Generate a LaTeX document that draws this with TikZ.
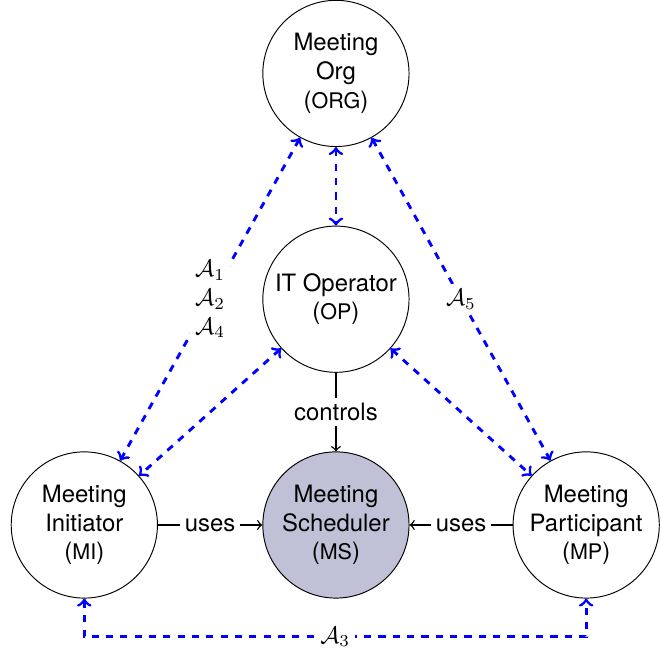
\documentclass[tikz,border=0pt]{standalone}
\usepackage{fontspec}
\setmainfont{TeX Gyre Heros}
\definecolor{schedfill}{RGB}{192,193,214}
\newcommand{\abbr}[1]{({\small #1})}

\begin{document}
\begin{tikzpicture}[>=to]
	\tikzset{
		agent/.style={circle, draw, inner sep=0, minimum size=2.15cm, align=center},
		link/.style={->, semithick},
		assoc/.style={<->, blue, very thick, dashed},
		tag/.style={fill=white, text=black, inner sep=2pt, align=center},
	}
	\useasboundingbox (-4.94,-1.84) rectangle (4.78,7.72);
	% agents
	\node[agent, fill=schedfill] (MS) at (0,0) {Meeting\\Scheduler\\\abbr{MS}};
	\node[agent] (MI) at (-3.7,0) {Meeting\\Initiator\\\abbr{MI}};
	\node[agent] (MP) at (3.68,0) {Meeting\\Participant\\\abbr{MP}};
	\node[agent] (OP) at (0,3.32) {IT Operator\\\abbr{OP}};
	\node[agent] (ORG) at (0,6.64) {Meeting\\Org\\\abbr{ORG}};
	% use relations
	\draw[link] (OP) -- node[tag] {controls} (MS);
	\draw[link] (MI) -- node[tag] {uses} (MS);
	\draw[link] (MP) -- node[tag] {uses} (MS);
	% associations
	\draw[assoc] (ORG) -- (OP);
	\draw[assoc] (ORG) -- node[tag] {$\mathcal{A}_1$\\$\mathcal{A}_2$\\$\mathcal{A}_4$} (MI);
	\draw[assoc] (ORG) -- node[tag] {$\mathcal{A}_5$} (MP);
	\draw[assoc] (OP) -- (MI);
	\draw[assoc] (OP) -- (MP);
	\draw[assoc] (MI.south) -- ++(0,-0.56) -| node[tag, pos=0.25] {$\mathcal{A}_3$} (MP.south);
\end{tikzpicture}
\end{document}
